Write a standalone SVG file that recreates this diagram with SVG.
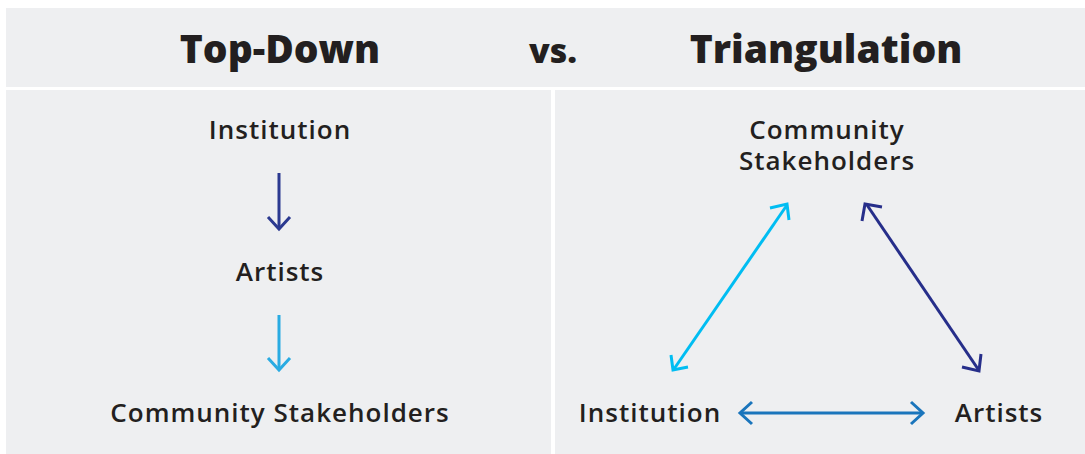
<svg xmlns="http://www.w3.org/2000/svg" width="1085" height="454" viewBox="0 0 1085 454">
  <style>
    .panel { fill: #eeeff1; }
    .title { font-family: "Open Sans", Lato, sans-serif; font-weight: 800; font-size: 39px; fill: #231f20; text-anchor: middle; }
    .label { font-family: "Open Sans", Lato, sans-serif; font-weight: 600; font-size: 26px; letter-spacing: 1px; fill: #231f20; text-anchor: middle; }
    .arrow { fill: none; stroke-width: 3; stroke-linecap: butt; stroke-linejoin: miter; }
  </style>
  <rect width="1085" height="454" fill="#ffffff"/>

  <!-- panels -->
  <rect class="panel" x="6" y="8" width="1079" height="79"/>
  <rect class="panel" x="6" y="90" width="545" height="364"/>
  <rect class="panel" x="555" y="90" width="530" height="364"/>

  <!-- header -->
  <g id="header">
    <text class="title" x="280" y="63">Top-Down</text>
    <text class="title" x="553" y="63" style="font-size:34px">vs.</text>
    <text class="title" x="826" y="63">Triangulation</text>
  </g>

  <!-- top-down column -->
  <g id="td-institution"><text class="label" x="280" y="139">Institution</text></g>
  <g id="td-artists"><text class="label" x="280" y="281">Artists</text></g>
  <g id="td-community"><text class="label" x="280" y="422">Community Stakeholders</text></g>

  <!-- triangulation -->
  <g id="tr-community">
    <text class="label"><tspan x="827" y="139">Community</tspan><tspan x="827" y="170">Stakeholders</tspan></text>
  </g>
  <g id="tr-institution"><text class="label" x="650" y="422">Institution</text></g>
  <g id="tr-artists"><text class="label" x="999" y="422">Artists</text></g>

  <g id="connectors" class="arrow">
    <!-- top-down arrows -->
    <g stroke="#2b3990">
      <line x1="279" y1="173" x2="279" y2="228"/>
      <polyline points="268,217 279,229 290,217"/>
    </g>
    <g stroke="#29abe2">
      <line x1="279" y1="315" x2="279" y2="369"/>
      <polyline points="268,358 279,370 290,358"/>
    </g>
    <!-- institution <-> community -->
    <g stroke="#00bdf2">
      <line x1="674" y1="369" x2="787" y2="205"/>
      <polyline points="671,355 673,370 688,367"/>
      <polyline points="770,208 787,204 789,220"/>
    </g>
    <!-- community <-> artists -->
    <g stroke="#262e8a">
      <line x1="867" y1="205" x2="978" y2="369"/>
      <polyline points="862,221 865,204 882,207"/>
      <polyline points="962,367 979,371 981,354"/>
    </g>
    <!-- institution <-> artists -->
    <g stroke="#1a75bc">
      <line x1="741" y1="413" x2="922" y2="413"/>
      <polyline points="752,402 740,413 752,424"/>
      <polyline points="911,402 923,413 911,424"/>
    </g>
  </g>
</svg>
